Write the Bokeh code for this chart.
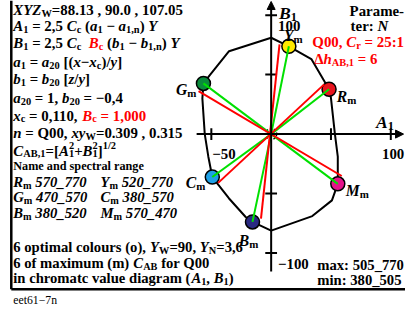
from bokeh.plotting import figure
from bokeh.models import Range1d, Arrow, NormalHead, ColumnDataSource
from bokeh.embed import file_html
from bokeh.resources import INLINE
from bokeh.core.properties import value

# ---------------- data ----------------
names = ["R", "Y", "G", "C", "B", "M"]
fill_colours = ["#e8141e", "#ffe800", "#0a8c3c", "#1ea0e6", "#2a2a82", "#e6148a"]
A_m = [48.4, 14.8, -56.6, -49.2, -15.6, 55.7]
B_m = [37.7, 73.8, 42.6, -36.1, -73.8, -41.8]

# red lines (maximum hue) end points
red_A0 = [7.0, 44.3, -60.7]
red_B0 = [75.4, 41.8, 36.1]
red_A1 = [-8.5, -44.3, 59.0]
red_B1 = [-71.0, -41.0, -35.2]

# optimal colour boundary
boundary_A = [0, 14.8, 33.6, 48.4, 50.0, 53.3, 55.7, 55.7, 50.8, 34.4, 0, -15.6, -21.3,
              -35.2, -49.2, -52.5, -55.5, -57.5, -56.6, -51.6, -35.2, 0]
boundary_B = [81, 73.8, 63.1, 37.7, 30.3, 0, -18.9, -41.8, -55.7, -68.9, -81.1, -73.8, -69.7,
              -54.1, -36.1, -19, 0, 30, 42.6, 49.2, 69.7, 81]

origin_A = [0]
origin_B = [0]
x_ticks = [-50, 50, 100]
y_ticks = [-100, -50, 50, 100]
x_tick_labels = ["\u221250", "", "100"]
y_tick_labels = ["\u2212100", "", "", "100"]

# ---------------- geometry (reference px <-> data) ----------------
OX, OY, S = 276.0, 137.0, 1.22
RW, RH = 413, 323          # layout designed on a 413 x 323 grid
W, H = 405, 315            # drawn size (fits inside the page margin)
K = (W / RW + H / RH) / 2  # font scale


def ax(px):
    return (px - OX) / S


def by(py):
    return (OY - py) / S


p = figure(width=W, height=H, output_backend="svg", toolbar_location=None,
           x_range=Range1d(ax(0), ax(RW)), y_range=Range1d(by(RH), by(0)),
           x_axis_location=None, y_axis_location=None, min_border=0,
           outline_line_color=None)
p.grid.visible = False

# ---------------- text helpers ----------------
FONT = "Liberation Serif"
WB = {' ': 250, '!': 333, '(': 333, ')': 333, '+': 570, ',': 250, '-': 333, '.': 250, '/': 278,
      ':': 333, '=': 570, '[': 333, ']': 333, '_': 500, '\u2212': 570, '\u0394': 612,
      'A': 722, 'B': 667, 'C': 722, 'D': 722, 'E': 667, 'F': 611, 'G': 778, 'H': 778, 'I': 389,
      'J': 500, 'K': 778, 'L': 667, 'M': 944, 'N': 722, 'O': 778, 'P': 611, 'Q': 778, 'R': 722,
      'S': 556, 'T': 667, 'U': 722, 'V': 722, 'W': 1000, 'X': 722, 'Y': 722, 'Z': 667,
      'a': 500, 'b': 556, 'c': 444, 'd': 556, 'e': 444, 'f': 333, 'g': 500, 'h': 556, 'i': 278,
      'j': 333, 'k': 556, 'l': 278, 'm': 833, 'n': 556, 'o': 500, 'p': 556, 'q': 556, 'r': 444,
      's': 389, 't': 333, 'u': 556, 'v': 500, 'w': 722, 'x': 500, 'y': 500, 'z': 444}
WBI = {' ': 250, '(': 333, ')': 333, ',': 250, '.': 250, '/': 278, '_': 500, '=': 570,
       '\u2212': 606, 'A': 667, 'B': 667, 'C': 667, 'G': 722, 'M': 889, 'N': 722, 'R': 667,
       'X': 667, 'Y': 611, 'Z': 611, 'W': 889, 'a': 500, 'b': 500, 'c': 444, 'h': 556,
       'm': 778, 'n': 556, 'x': 500, 'y': 444, 'z': 389}

groups = {}


def put(px, py, s, size, style, color):
    key = (round(size * K, 2), style, color)
    d = groups.setdefault(key, {"x": [], "y": [], "t": []})
    d["x"].append(ax(px))
    d["y"].append(by(py))
    d["t"].append(s)


def width(s, italic, size):
    tbl = WBI if italic else WB
    return sum(tbl.get(ch, WB.get(ch, 500)) for ch in s) * size / 1000.0


def rich(px, py, segs, size, color="black"):
    """Lay out bold text segments; flags: i italic, s sub, p sup, k stacked, r red, n normal."""
    x = px
    last_start = px
    for s, f in segs:
        it = "i" in f
        col = "#ff0000" if "r" in f else color
        if "s" in f:
            sz, y = size * 0.7, py + size * 0.22
        elif "p" in f:
            sz, y = size * 0.7, py - size * 0.38
        else:
            sz, y = size, py
        style = "normal" if "n" in f else ("bold italic" if it else "bold")
        core = s.strip(" ")
        lead = len(s) - len(s.lstrip(" "))
        trail = len(s) - len(s.rstrip(" "))
        sp = 250 * sz / 1000.0
        start = last_start if "k" in f else x
        cx = start + lead * sp
        if core:
            put(cx, y, core, sz, style, col)
        end = cx + width(core, it, sz) + trail * sp
        x = max(x, end) if "k" in f else end
        last_start = start


# ---------------- left text block ----------------
L = 13
F1 = 15.2
rich(L, 10, [("XYZ", "i"), ("W", "s"), ("=88.13 , 90.0 , 107.05", "")], F1)
rich(L, 26, [("A", "i"), ("1", "s"), (" = 2,5 ", ""), ("C", "i"), ("c", "s"), (" (", ""),
             ("a", "i"), ("1", "s"), (" \u2212 ", ""), ("a", "i"), ("1,n", "s"), (") ", ""),
             ("Y", "i")], F1)
rich(L, 44, [("B", "i"), ("1", "s"), (" = 2,5 ", ""), ("C", "i"), ("c", "s"), (" ", ""),
             ("B", "ir"), ("c", "sr"), (" (", ""), ("b", "i"), ("1", "s"), (" \u2212 ", ""),
             ("b", "i"), ("1,n", "s"), (") ", ""), ("Y", "i")], F1)
rich(L, 63, [("a", "i"), ("1", "s"), (" = ", ""), ("a", "i"), ("20", "s"), (" [(", ""),
             ("x", "i"), ("\u2212", ""), ("x", "i"), ("c", "s"), (")/", ""), ("y", "i"),
             ("]", "")], F1)
rich(L, 81, [("b", "i"), ("1", "s"), (" = ", ""), ("b", "i"), ("20", "s"), (" [", ""),
             ("z", "i"), ("/", ""), ("y", "i"), ("]", "")], F1)
rich(L, 100, [("a", "i"), ("20", "s"), (" = 1, ", ""), ("b", "i"), ("20", "s"),
              (" = \u22120,4", "")], F1)
rich(L, 118, [("x", "i"), ("c", "s"), (" = 0,110, ", ""), ("B", "ir"), ("c", "sr"),
              (" = 1,000", "r")], F1)
rich(L, 136, [("n", "i"), (" = Q00, ", ""), ("xy", "i"), ("W", "s"),
              ("=0.309 , 0.315", "")], F1)
rich(L, 154, [("C", "i"), ("AB,1", "s"), ("=[", ""), ("A", "i"), ("1", "s"), ("2", "pk"),
              ("+", ""), ("B", "i"), ("1", "s"), ("2", "pk"), ("]", ""), ("1/2", "p")], F1)

F2 = 15
rich(L, 170, [("Name and spectral range", "")], 12.5)
col2 = 102
rich(L, 186, [("R", "i"), ("m", "s"), (" 570_770", "i")], F2)
rich(col2, 186, [("Y", "i"), ("m", "s"), (" 520_770", "i")], F2)
rich(L, 202, [("G", "i"), ("m", "s"), (" 470_570", "i")], F2)
rich(col2, 202, [("C", "i"), ("m", "s"), (" 380_570", "i")], F2)
rich(L, 218, [("B", "i"), ("m", "s"), (" 380_520", "i")], F2)
rich(col2, 218, [("M", "i"), ("m", "s"), (" 570_470", "i")], F2)
rich(L, 253, [("6 optimal colours (o), ", ""), ("Y", "i"), ("W", "s"), ("=90, ", ""),
              ("Y", "i"), ("N", "s"), ("=3,6", "")], F2)
rich(L, 269, [("6 of maximum (m) ", ""), ("C", "i"), ("AB", "s"), (" for Q00", "")], F2)
rich(L, 285, [("in chromatc value diagram (", ""), ("A", "i"), ("1", "s"), (", ", ""),
              ("B", "i"), ("1", "s"), (")", "")], F2)
rich(L, 308, [("eet61\u22127n", "n")], 12)

# ---------------- right text ----------------
rich(356, 11, [("Parame-", "")], F1)
rich(357, 26, [("ter: ", ""), ("N", "i")], F1)
rich(318, 43, [("Q00, ", "r"), ("C", "ir"), ("r", "sr"), (" = 25:1", "r")], F1)
rich(320, 60, [("\u0394", "r"), ("h", "ir"), ("AB,1", "sr"), (" = 6", "r")], F1)
rich(323, 271, [("max: 505_770", "")], F2)
rich(323, 287, [("min: 380_505", "")], F2)

# axis labels and tick labels
rich(383, 125, [("A", "i"), ("1", "s")], 18)
rich(284, 13, [("B", "i"), ("1", "s")], 18)
x_lab_left = {-50: 216, 100: 389}
for t, lab in zip(x_ticks, x_tick_labels):
    if lab:
        rich(x_lab_left[t], 157, [(lab, "")], F1)
for t, lab in zip(y_ticks, y_tick_labels):
    if lab:
        rich(OX + 7, OY - S * t + 11, [(lab, "")], F1)

# circle labels
lab_pos = {"R": (343, 98), "Y": (289, 36), "G": (179, 91), "C": (189, 187),
           "B": (243, 246), "M": (352, 195)}
for n in names:
    x0, y0 = lab_pos[n]
    rich(x0, y0, [(n, "i"), ("m", "s")], 16)

# ---------------- frame lines ----------------
p.segment(x0=[ax(11), ax(11)], y0=[by(0), by(296)], x1=[ax(11), ax(413)], y1=[by(296), by(296)],
          line_color="black", line_width=2.5)

# ---------------- axes ----------------
p.add_layout(Arrow(x_start=ax(200), y_start=0, x_end=ax(411), y_end=0, line_width=2,
                   end=NormalHead(size=8, fill_color="black", line_color="black")))
p.add_layout(Arrow(x_start=0, y_start=by(278), x_end=0, y_end=by(1), line_width=2,
                   end=NormalHead(size=8, fill_color="black", line_color="black")))
tk = 6 / S
p.segment(x0=x_ticks, y0=[-tk] * len(x_ticks), x1=x_ticks, y1=[tk] * len(x_ticks),
          line_color="black", line_width=2)
p.segment(x0=[-tk] * len(y_ticks), y0=y_ticks, x1=[tk] * len(y_ticks), y1=y_ticks,
          line_color="black", line_width=2)

# ---------------- chart marks ----------------
p.line(boundary_A, boundary_B, line_color="black", line_width=2)
p.scatter(origin_A, origin_B, size=11, fill_color=None, line_color="black",
          line_dash="2 2", line_width=1.5)
p.scatter(A_m, B_m, size=14, fill_color=fill_colours, line_color="black", line_width=1.5)
p.segment(x0=[0] * len(A_m), y0=[0] * len(B_m), x1=A_m, y1=B_m, line_color="#00e000",
          line_width=2)
p.segment(x0=red_A0, y0=red_B0, x1=red_A1, y1=red_B1, line_color="#ff0000", line_width=2)

# ---------------- texts ----------------
for (size, style, color), d in groups.items():
    p.text(x="x", y="y", text="t", source=ColumnDataSource(d), text_font=value(FONT),
           text_font_size=value(f"{size}px"), text_font_style=style, text_color=color,
           text_baseline="alphabetic", text_align="left")

open("out.html", "w").write(file_html(p, INLINE))
